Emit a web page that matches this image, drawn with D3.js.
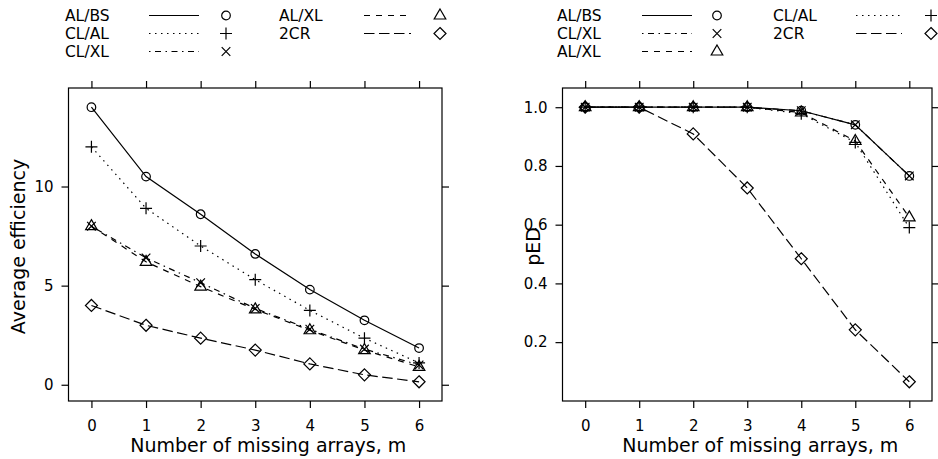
<!DOCTYPE html>
<html><head><meta charset="utf-8">
<script src="https://cdn.jsdelivr.net/npm/d3@7"></script>
<style>body{margin:0;background:#fff}svg{display:block}text{font-family:"DejaVu Sans",sans-serif;fill:#000}</style>
</head><body><svg id="c" width="938" height="459"></svg>
<script>
const m = [0,1,2,3,4,5,6];
// Left panel: average efficiency
const effALBS = [14.0,10.5,8.6,6.6,4.8,3.25,1.85];
const effCLAL = [12.0,8.9,7.0,5.3,3.75,2.35,1.1];
const effCLXL = [8.0,6.4,5.15,3.85,2.8,1.8,1.0];
const effALXL = [8.0,6.2,4.95,3.8,2.75,1.75,0.9];
const eff2CR  = [4.0,3.0,2.35,1.75,1.05,0.5,0.15];
// Right panel: pED
const pedALBS = [1,1,1,1,0.988,0.94,0.766];
const pedCLXL = [1,1,1,1,0.988,0.94,0.766];
const pedCLAL = [1,1,1,1,0.978,0.88,0.59];
const pedALXL = [1,1,1,1,0.982,0.885,0.625];
const ped2CR  = [1,1,0.909,0.725,0.484,0.242,0.065];
const xTicks = [0,1,2,3,4,5,6];
const effTicks = [0,5,10];
const pedTicks = [0.2,0.4,0.6,0.8,1.0];
const legendLeft = [["AL/BS","CL/AL","CL/XL"],["AL/XL","2CR"]];
const legendRight = [["AL/BS","CL/XL","AL/XL"],["CL/AL","2CR"]];

const style = {
  "AL/BS": {dash:null, sym:"circle"},
  "CL/AL": {dash:"1.5,4.5", sym:"plus"},
  "CL/XL": {dash:"1.5,4.5,6,4.5", sym:"cross"},
  "AL/XL": {dash:"6,6", sym:"triangle"},
  "2CR":   {dash:"10.5,4.5", sym:"diamond"}
};
const svg = d3.select("#c");

function symbol(g, type, x, y){
  const s = g.append("path").attr("fill","none").attr("stroke","#000").attr("stroke-width",1.2);
  const p = d3.path();
  if(type==="circle"){ p.arc(x,y,4.3,0,2*Math.PI); }
  else if(type==="plus"){ p.moveTo(x-6,y);p.lineTo(x+6,y);p.moveTo(x,y-6);p.lineTo(x,y+6); }
  else if(type==="cross"){ p.moveTo(x-4.3,y-4.3);p.lineTo(x+4.3,y+4.3);p.moveTo(x-4.3,y+4.3);p.lineTo(x+4.3,y-4.3); }
  else if(type==="triangle"){ p.moveTo(x,y-6.5);p.lineTo(x+5.8,y+3.5);p.lineTo(x-5.8,y+3.5);p.closePath(); }
  else if(type==="diamond"){ p.moveTo(x,y-6);p.lineTo(x+6,y);p.lineTo(x,y+6);p.lineTo(x-6,y);p.closePath(); }
  s.attr("d",p.toString());
}

function pad(ext){ const r=ext[1]-ext[0]; return [ext[0]-0.07*r, ext[1]+0.07*r]; }

function panel(cfg){
  const {x0,x1,y0,y1,data,yTicks,yFmt,ylab,ylabX,legend,leg} = cfg;
  const x = d3.scaleLinear().domain(pad(d3.extent(m))).range([x0,x1]);
  const allY = data.flatMap(d=>d.values);
  const y = d3.scaleLinear().domain(pad(d3.extent(allY))).range([y1,y0]);
  const g = svg.append("g");
  const bottom = g.append("g").attr("transform",`translate(0,${y1})`)
    .call(d3.axisBottom(x).tickValues(xTicks).tickSize(7).tickPadding(12).tickFormat(d3.format("d")));
  const top = g.append("g").attr("transform",`translate(0,${y0})`)
    .call(d3.axisTop(x).tickValues(xTicks).tickSize(7).tickFormat(""));
  const left = g.append("g").attr("transform",`translate(${x0},0)`)
    .call(d3.axisLeft(y).tickValues(yTicks).tickSize(7).tickPadding(8).tickFormat(yFmt));
  const right = g.append("g").attr("transform",`translate(${x1},0)`)
    .call(d3.axisRight(y).tickValues(yTicks).tickSize(7).tickFormat(""));
  [bottom,top,left,right].forEach(a=>{
    a.select(".domain").remove();
    a.selectAll("line").attr("stroke","#000").attr("stroke-width",1.2);
    a.selectAll("text").attr("font-size",15).attr("font-family","DejaVu Sans");
  });
  g.append("rect").attr("x",x0).attr("y",y0).attr("width",x1-x0).attr("height",y1-y0)
    .attr("fill","none").attr("stroke","#000").attr("stroke-width",1.2);
  const line = d3.line().x((d,i)=>x(m[i])).y(d=>y(d));
  data.forEach(s=>{
    const st = style[s.name];
    g.append("path").attr("d",line(s.values)).attr("fill","none").attr("stroke","#000")
      .attr("stroke-width",1.2).attr("stroke-dasharray",st.dash);
    s.values.forEach((v,i)=>symbol(g,st.sym,x(m[i]),y(v)));
  });
  g.append("text").attr("x",(x0+x1)/2+13).attr("y",452).attr("text-anchor","middle")
    .attr("font-size",19).text("Number of missing arrays, m");
  g.append("text").attr("transform",`translate(${ylabX},${(y0+y1)/2+2}) rotate(-90)`)
    .attr("text-anchor","middle").attr("font-size",19).text(ylab);
  const rows=[15.5,33.5,51.5];
  legend.forEach((col,ci)=>{
    const L = leg[ci];
    col.forEach((name,ri)=>{
      const st = style[name];
      g.append("text").attr("x",L.tx).attr("y",rows[ri]+5.5).attr("font-size",15.5).text(name);
      g.append("line").attr("x1",L.l0).attr("x2",L.l1).attr("y1",rows[ri]).attr("y2",rows[ri])
        .attr("stroke","#000").attr("stroke-width",1.2).attr("stroke-dasharray",st.dash);
      symbol(g,st.sym,L.sx,rows[ri]);
    });
  });
}

panel({x0:68.5,x1:442,y0:88,y1:401,
  data:[{name:"AL/BS",values:effALBS},{name:"CL/AL",values:effCLAL},{name:"CL/XL",values:effCLXL},{name:"AL/XL",values:effALXL},{name:"2CR",values:eff2CR}],
  yTicks:effTicks, yFmt:d3.format("d"), ylab:"Average efficiency", ylabX:25,
  legend:legendLeft,
  leg:[{tx:65,l0:149,l1:199,sx:226},{tx:279,l0:364,l1:411,sx:440}]});
panel({x0:562.5,x1:932,y0:88,y1:401,
  data:[{name:"AL/BS",values:pedALBS},{name:"CL/XL",values:pedCLXL},{name:"CL/AL",values:pedCLAL},{name:"AL/XL",values:pedALXL},{name:"2CR",values:ped2CR}],
  yTicks:pedTicks, yFmt:d3.format(".1f"), ylab:"pED", ylabX:540,
  legend:legendRight,
  leg:[{tx:557,l0:642,l1:692,sx:717},{tx:773,l0:856,l1:902,sx:931}]});
</script></body></html>
